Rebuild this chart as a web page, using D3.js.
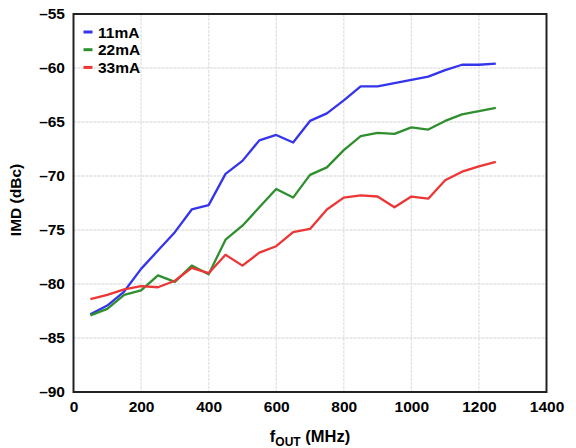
<!DOCTYPE html>
<html><head><meta charset="utf-8">
<script src="https://cdn.jsdelivr.net/npm/d3@7"></script>
<style>
html,body{margin:0;padding:0;background:#fff;}
svg text{font-family:"Liberation Sans",Arial,Helvetica,sans-serif;font-weight:bold;fill:#000;}
</style></head>
<body><svg id="c" width="576" height="448"></svg>
<script>
const freqs = [50,100,150,200,250,300,350,400,450,500,550,600,650,700,750,800,850,900,950,1000,1050,1100,1150,1200,1250];
const imd11 = [-82.8,-82.0,-80.7,-78.6,-76.9,-75.2,-73.1,-72.7,-69.8,-68.6,-66.7,-66.2,-66.9,-64.9,-64.2,-63.0,-61.7,-61.7,-61.4,-61.1,-60.8,-60.2,-59.7,-59.7,-59.6];
const imd22 = [-82.9,-82.3,-81.0,-80.6,-79.2,-79.8,-78.3,-79.1,-75.9,-74.6,-72.9,-71.2,-72.0,-69.9,-69.2,-67.6,-66.3,-66.0,-66.1,-65.5,-65.7,-64.9,-64.3,-64.0,-63.7];
const imd33 = [-81.4,-81.0,-80.5,-80.2,-80.3,-79.7,-78.5,-79.0,-77.3,-78.3,-77.1,-76.5,-75.2,-74.9,-73.1,-72.0,-71.8,-71.9,-72.9,-71.9,-72.1,-70.4,-69.6,-69.1,-68.7];
const seriesNames = ["11mA","22mA","33mA"];
const seriesColors = ["#3434ec","#2f8f2f","#ee3535"];
const xTicks = [0,200,400,600,800,1000,1200,1400];
const yTicks = [-55,-60,-65,-70,-75,-80,-85,-90];

const svg = d3.select("#c");
const L=73.5, R=546.5, T=14, B=392;
const x = d3.scaleLinear().domain([0,1400]).range([L,R]);
const y = d3.scaleLinear().domain([-90,-55]).range([B,T]);
const fmt = v => v<0 ? "\u2013"+Math.abs(v) : String(v);

// grid
const g = svg.append("g");
g.selectAll("line.gx").data(xTicks.slice(1,-1)).enter().append("line")
  .attr("x1",d=>x(d)).attr("x2",d=>x(d)).attr("y1",T).attr("y2",B)
  .attr("stroke","#e2e2e2").attr("stroke-width",1.3).attr("stroke-dasharray","3,1");
g.selectAll("line.gy").data(yTicks.slice(1,-1)).enter().append("line")
  .attr("y1",d=>y(d)).attr("y2",d=>y(d)).attr("x1",L).attr("x2",R)
  .attr("stroke","#e2e2e2").attr("stroke-width",1.3).attr("stroke-dasharray","3,1");

// axes via d3 axis (labels only)
const xa = svg.append("g").attr("transform",`translate(0,${B})`)
  .call(d3.axisBottom(x).tickValues(xTicks).tickSize(0).tickPadding(9).tickFormat(fmt));
xa.select(".domain").remove();
xa.selectAll("text").attr("font-size",15.5).attr("font-family",null).attr("dy","0.71em");
const ya = svg.append("g").attr("transform",`translate(${L},0)`)
  .call(d3.axisLeft(y).tickValues(yTicks).tickSize(0).tickPadding(8.5).tickFormat(fmt));
ya.select(".domain").remove();
ya.selectAll("text").attr("font-size",15.5).attr("font-family",null);

// lines
const line = d3.line().x((d,i)=>x(freqs[i])).y(d=>y(d));
[imd11,imd22,imd33].forEach((s,k)=>{
  svg.append("path").datum(s).attr("d",line).attr("fill","none")
    .attr("stroke",seriesColors[k]).attr("stroke-width",2.3).attr("stroke-linejoin","round");
});

// frame
svg.append("rect").attr("x",L).attr("y",T).attr("width",R-L).attr("height",B-T)
  .attr("fill","none").attr("stroke","#222").attr("stroke-width",2);

// legend
const lg = svg.append("g");
seriesNames.forEach((n,k)=>{
  const yy = 32 + k*17.7;
  lg.append("line").attr("x1",83.5).attr("x2",92.5).attr("y1",yy).attr("y2",yy)
    .attr("stroke",seriesColors[k]).attr("stroke-width",3);
  lg.append("text").attr("x",98).attr("y",yy).attr("dy","0.36em").attr("font-size",15.5).text(n);
});

// axis titles
svg.append("text").attr("transform","translate(21,200) rotate(-90)").attr("text-anchor","middle")
  .attr("font-size",15.5).text("IMD (dBc)");
const xt = svg.append("text").attr("x",310).attr("y",442).attr("text-anchor","middle").attr("font-size",16.5);
xt.append("tspan").text("f");
xt.append("tspan").attr("font-size",12).attr("dy",4).text("OUT");
xt.append("tspan").attr("dy",-4).text(" (MHz)");
</script></body></html>
